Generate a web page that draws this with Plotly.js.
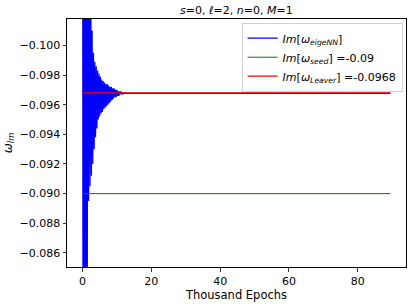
<!DOCTYPE html>
<html>
<head>
<meta charset="utf-8">
<script src="https://cdn.plot.ly/plotly-3.0.1.min.js"></script>
<style>html,body{margin:0;padding:0;background:#fff;}#chart{width:414px;height:304px;}</style>
</head>
<body>
<div id="chart"></div>
<script>
// Thousand epochs sampled for the early (oscillating) phase of training
const epochStep = 0.2;
// Im[omega_eigeNN] during the early phase
const eigeEarly = [
  -0.125, -0.060, -0.120, -0.065, -0.118, -0.070, -0.115, -0.084, -0.112, -0.0895,
  -0.110, -0.0905, -0.106, -0.0912, -0.1010, -0.0920, -0.0995, -0.0930, -0.0989, -0.0938,
  -0.0986, -0.0944, -0.0983, -0.0950, -0.0981, -0.0952, -0.0979, -0.0954, -0.0977, -0.0955,
  -0.0976, -0.0957, -0.0975, -0.0958, -0.0974, -0.0959, -0.0974, -0.0960, -0.0973, -0.0961,
  -0.0972, -0.0962, -0.0972, -0.0963, -0.0971, -0.0964, -0.0971, -0.0965, -0.0970, -0.0965,
  -0.0970, -0.0966, -0.0969, -0.0966, -0.0969, -0.0967, -0.0969, -0.0967, -0.0968, -0.0967,
  -0.09678
];
// Converged tail
const tailEpochs = [14, 30, 50, 70, 89.5];
const tailValues = [-0.09676, -0.09676, -0.09676, -0.09676, -0.09676];

const seedEpochs = [0, 89.5];
const seedValue = -0.09;
const leaverEpochs = [0, 89.5];
const leaverValue = -0.0968;

const yTicks = [-0.100, -0.098, -0.096, -0.094, -0.092, -0.090, -0.088, -0.086];
const xTicks = [0, 20, 40, 60, 80];

const eigeX = eigeEarly.map((_, i) => +(i * epochStep).toFixed(2)).concat(tailEpochs);
const eigeY = eigeEarly.concat(tailValues);

const fam = 'DejaVu Sans, sans-serif';

const traces = [
  {x: eigeX, y: eigeY, mode: 'lines', line: {color: '#0000ff', width: 1.2},
   name: '<i>Im</i>[<i>ω</i><sub><i>eigeNN</i></sub>]'},
  {x: seedEpochs, y: seedEpochs.map(() => seedValue), mode: 'lines', line: {color: '#008000', width: 1},
   name: '<i>Im</i>[<i>ω</i><sub><i>seed</i></sub>] =-0.09'},
  {x: leaverEpochs, y: leaverEpochs.map(() => leaverValue), mode: 'lines', line: {color: '#ff0000', width: 1.2},
   name: '<i>Im</i>[<i>ω</i><sub><i>Leaver</i></sub>] =-0.0968'}
];

const layout = {
  width: 414, height: 304,
  margin: {l: 67, r: 8, t: 19, b: 37},
  paper_bgcolor: '#fff', plot_bgcolor: '#fff',
  font: {family: fam, size: 11, color: '#000'},
  showlegend: true,
  title: {text: '<i>s</i>=0, <i>ℓ</i>=2, <i>n</i>=0, <i>M</i>=1', font: {family: fam, size: 11, color: '#000'},
          x: 0.571, xanchor: 'center', y: 0.968, yanchor: 'middle'},
  xaxis: {
    range: [-4.5, 94], tickvals: xTicks, ticktext: xTicks.map(String),
    showgrid: false, zeroline: false, showline: true, mirror: true, linecolor: '#000', linewidth: 1,
    ticks: 'outside', ticklen: 3.5, tickwidth: 0.8, tickcolor: '#000',
    tickfont: {family: fam, size: 11, color: '#000'},
    title: {text: 'Thousand Epochs', font: {family: fam, size: 11.5, color: '#000'}, standoff: 1}
  },
  yaxis: {
    range: [-0.08505, -0.10178], tickvals: yTicks, ticktext: yTicks.map(v => '−' + Math.abs(v).toFixed(3)),
    showgrid: false, zeroline: false, showline: true, mirror: true, linecolor: '#000', linewidth: 1,
    ticks: 'outside', ticklen: 3.5, tickwidth: 0.8, tickcolor: '#000',
    tickfont: {family: fam, size: 11, color: '#000'},
    title: {text: '<i>ω</i><sub><i>Im</i></sub>', font: {family: fam, size: 12, color: '#000'}, standoff: 4}
  },
  legend: {
    x: 0.99, xanchor: 'right', y: 0.985, yanchor: 'top',
    bgcolor: 'rgba(255,255,255,0.8)', bordercolor: '#d0d0d0', borderwidth: 1,
    font: {family: fam, size: 11, color: '#000'},
    tracegroupgap: 0
  }
};

Plotly.newPlot('chart', traces, layout, {staticPlot: true, displayModeBar: false});
</script>
</body>
</html>
